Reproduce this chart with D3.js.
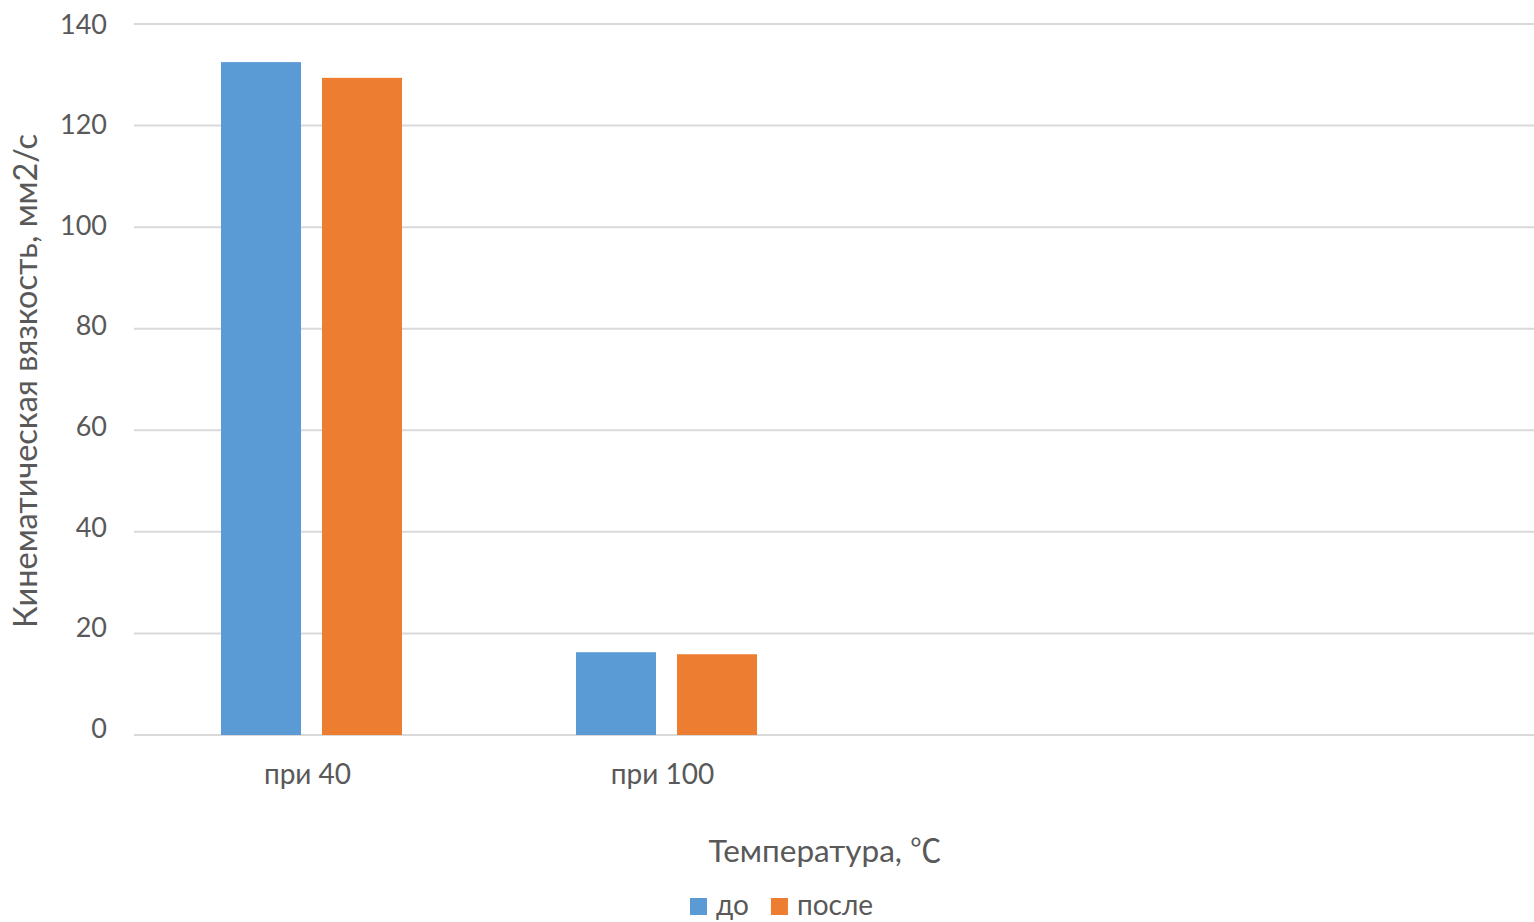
<!DOCTYPE html>
<html>
<head>
<meta charset="utf-8">
<script src="https://cdn.jsdelivr.net/npm/d3@7"></script>
<style>
  html, body { margin: 0; padding: 0; background: #fff; }
  svg { display: block; font-family: Lato, "Open Sans", sans-serif; }
</style>
</head>
<body>
<svg id="chart" width="1534" height="922"></svg>
<script>
const categories = ["при 40", "при 100"];
const seriesNames = ["до", "после"];
const valuesDo = [132.5, 16.3];
const valuesPosle = [129.4, 15.9];
const yTicks = [0, 20, 40, 60, 80, 100, 120, 140];
const yTitle = "Кинематическая вязкость, мм2/с";
const xTitleMain = "Температура, ";
const xTitleUnit = "℃";
const colors = ["#5B9BD5", "#ED7D31"];

(function () {
const seriesValues = [valuesDo, valuesPosle];
const data = categories.map((c, i) => ({
  cat: c,
  vals: seriesNames.map((s, j) => ({ key: s, value: seriesValues[j][i] }))
}));

const svg = d3.select("#chart");
const plotLeft = 134, plotRight = 1534, plotTop = 24, plotBottom = 735;

const y = d3.scaleLinear().domain([0, 140]).range([plotBottom, plotTop]);
// tick labels in the original are spaced slightly tighter than the gridlines
const yLabel = d3.scaleLinear().domain([0, 140]).range([728, 24]);
// two filled slots (the original chart has room for two more empty ones)
const step = 355;
const x0 = d3.scaleBand().domain(categories).range([plotLeft, plotLeft + step * categories.length])
  .paddingInner(174 / 355).paddingOuter(87 / 355);
const x1 = d3.scaleBand().domain(seriesNames).range([0, x0.bandwidth()])
  .paddingInner(21 / 101).paddingOuter(0);
const color = d3.scaleOrdinal().domain(seriesNames).range(colors);

// gridlines
svg.append("g").selectAll("line").data(yTicks).join("line")
  .attr("x1", plotLeft).attr("x2", plotRight)
  .attr("y1", d => y(d)).attr("y2", d => y(d))
  .attr("stroke", "#d9d9d9").attr("stroke-width", 2);

// y tick labels
svg.append("g").selectAll("text").data(yTicks).join("text")
  .attr("x", 107).attr("y", d => yLabel(d) + 9.7)
  .attr("text-anchor", "end")
  .attr("fill", "#595959").attr("font-size", 27)
  .text(d => d);

// bars
const groups = svg.append("g").selectAll("g").data(data).join("g")
  .attr("transform", d => `translate(${x0(d.cat)},0)`);
groups.selectAll("rect").data(d => d.vals).join("rect")
  .attr("x", d => x1(d.key))
  .attr("width", x1.bandwidth())
  .attr("y", d => y(d.value))
  .attr("height", d => y(0) - y(d.value))
  .attr("fill", d => color(d.key));

// category labels
svg.append("g").selectAll("text").data(categories).join("text")
  .attr("x", d => x0(d) + x0.bandwidth() / 2 - 4)
  .attr("y", 784)
  .attr("text-anchor", "middle")
  .attr("fill", "#595959").attr("font-size", 28)
  .text(d => d);

// axis titles
const xt = svg.append("text")
  .attr("x", 825).attr("y", 862)
  .attr("text-anchor", "middle")
  .attr("fill", "#595959").attr("font-size", 31.5);
xt.append("tspan").text(xTitleMain);
xt.append("tspan").attr("font-family", "'Noto Sans CJK SC', sans-serif").text(xTitleUnit);

svg.append("text")
  .attr("transform", "translate(37,381) rotate(-90)")
  .attr("text-anchor", "middle")
  .attr("fill", "#595959").attr("font-size", 32.5)
  .text(yTitle);

// legend
const legend = svg.append("g").attr("transform", "translate(690,898)");
let lx = 0;
seriesNames.forEach((s) => {
  const g = legend.append("g").attr("transform", `translate(${lx},0)`);
  g.append("rect").attr("width", 17).attr("height", 17).attr("fill", color(s));
  const t = g.append("text").attr("x", 26).attr("y", 17)
    .attr("fill", "#595959").attr("font-size", 28).text(s);
  lx += 26 + t.node().getComputedTextLength() + 22;
});
})();
</script>
</body>
</html>
